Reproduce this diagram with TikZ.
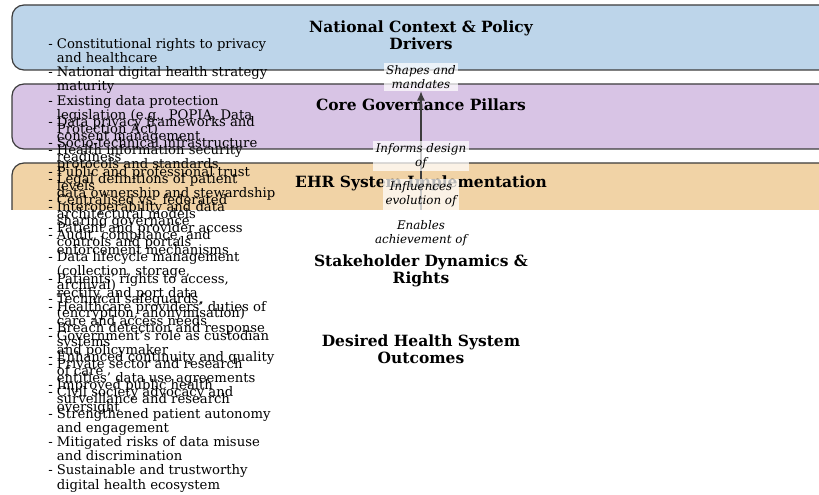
\documentclass[tikz,border=0pt]{standalone}
\usepackage{fontspec}
\setmainfont{DejaVu Serif}
\usetikzlibrary{arrows.meta,positioning}
\definecolor{ctxblue}{RGB}{189,213,234}
\definecolor{govlilac}{RGB}{216,196,229}
\definecolor{ehrsand}{RGB}{241,211,166}
\definecolor{rimgrey}{RGB}{60,60,60}
\newcommand{\hangin}{\hphantom{-\ }}

\begin{document}
\begin{tikzpicture}[x=0.75pt,y=-0.75pt,
  layer/.style={draw=rimgrey,line width=0.9pt,rounded corners=9pt},
  ttl/.style={font=\fontsize{11.6}{12.9}\selectfont\bfseries,align=center,inner sep=0pt},
  lst/.style={anchor=north west,align=left,inner sep=0pt,font=\fontsize{9.9}{10.65}\selectfont},
  rel/.style={fill=white,fill opacity=0.72,text opacity=1,align=center,inner sep=1.8pt,
    font=\fontsize{8.9}{10.5}\selectfont\itshape}]
  \useasboundingbox (0,0) rectangle (819,495);
  % layer boxes, cut off at the lower edge of the plot area
  \begin{scope}
    \clip (0,0) rectangle (819,210);
    \draw[layer,fill=ctxblue] (12,5) rectangle (845,70);
    \draw[layer,fill=govlilac] (12,84) rectangle (845,149);
    \draw[layer,fill=ehrsand] (12,163) rectangle (845,228);
  \end{scope}
  % layer titles
  \node[ttl] (ctx) at (421,35.5) {National Context \& Policy\\Drivers};
  \node[ttl] (gov) at (421,105) {Core Governance Pillars};
  \node[ttl] (ehr) at (421,183) {EHR System Implementation};
  \node[ttl] (stk) at (421,271) {Stakeholder Dynamics \&\\Rights};
  \node[ttl] (out) at (421,349.5) {Desired Health System\\Outcomes};
  % factor lists
  \node[lst] (ctxlist) at (48,38) {- Constitutional rights to privacy\\\hangin and healthcare\\
    - National digital health strategy\\\hangin maturity\\
    - Existing data protection\\\hangin legislation (e.g., POPIA, Data\\\hangin Protection Act)\\
    - Socio-technical infrastructure\\\hangin readiness\\
    - Public and professional trust\\\hangin levels};
  \node[lst] (govlist) at (48,116) {- Data privacy frameworks and\\\hangin consent management\\
    - Health information security\\\hangin protocols and standards\\
    - Legal definitions of patient\\\hangin data ownership and stewardship\\
    - Interoperability and data\\\hangin sharing governance\\
    - Audit, compliance, and\\\hangin enforcement mechanisms};
  \node[lst] (ehrlist) at (48,194) {- Centralised vs. federated\\\hangin architectural models\\
    - Patient and provider access\\\hangin controls and portals\\
    - Data lifecycle management\\\hangin (collection, storage,\\\hangin archival)\\
    - Technical safeguards,\\\hangin (encryption, anonymisation)\\
    - Breach detection and response\\\hangin systems};
  \node[lst] (stklist) at (48,273) {- Patients' rights to access,\\\hangin rectify, and port data\\
    - Healthcare providers' duties of\\\hangin care and access needs\\
    - Government's role as custodian\\\hangin and policymaker\\
    - Private sector and research\\\hangin entities' data use agreements\\
    - Civil society advocacy and\\\hangin oversight};
  \node[lst] (outlist) at (48,351) {- Enhanced continuity and quality\\\hangin of care\\
    - Improved public health\\\hangin surveillance and research\\
    - Strengthened patient autonomy\\\hangin and engagement\\
    - Mitigated risks of data misuse\\\hangin and discrimination\\
    - Sustainable and trustworthy\\\hangin digital health ecosystem};
  % relation labels and the link between the layers
  \node[rel] (shapes) at (421,77) {Shapes and\\mandates};
  \coordinate (ehrfoot) at (421,210);
  \draw[rimgrey,line width=0.8pt,-{Latex[length=7pt,width=6pt]}] (ehrfoot) -- (shapes.south);
  \node[rel] (informs) at (421,156) {Informs design\\of};
  \node[rel] (influences) at (421,194.5) {Influences\\evolution of};
  \node[rel] (enables) at (421,233.5) {Enables\\achievement of};
\end{tikzpicture}
\end{document}
